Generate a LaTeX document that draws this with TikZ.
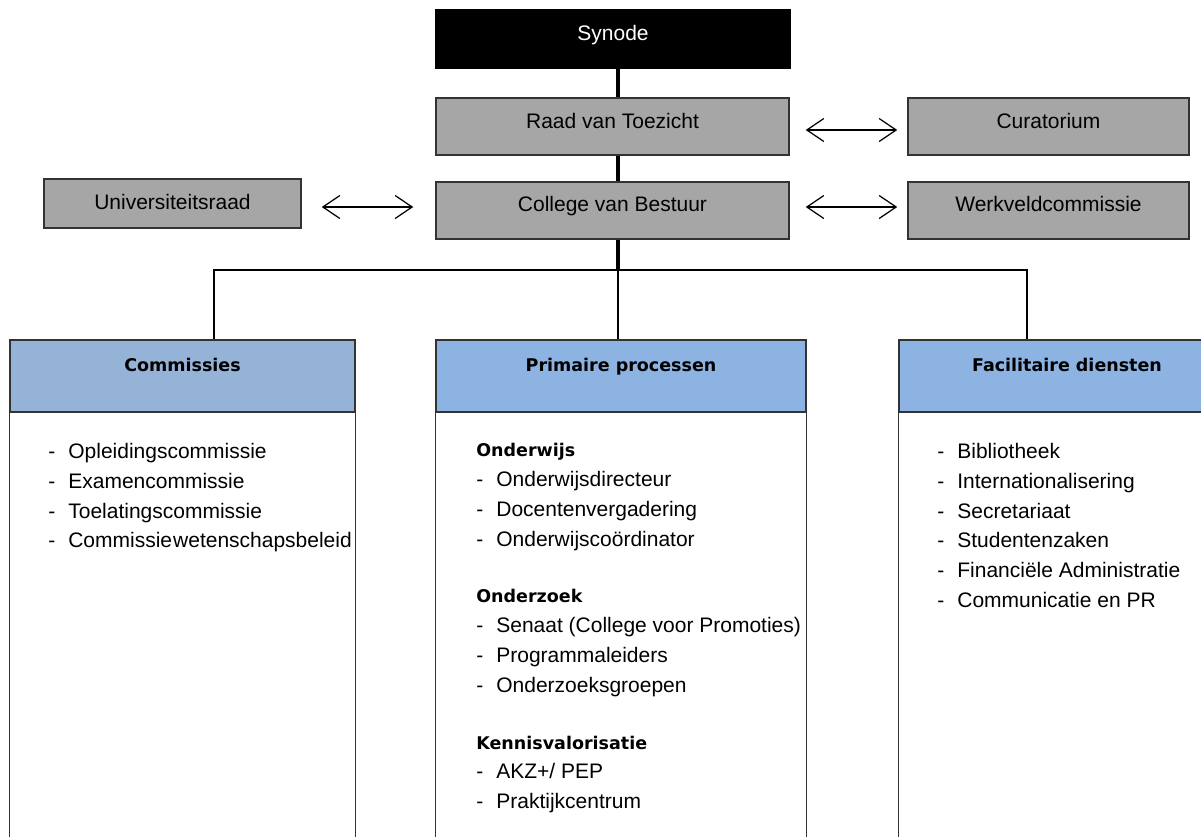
\documentclass[tikz,border=0pt]{standalone}
\usepackage{fontspec}
\setmainfont{Liberation Sans}
\newfontfamily\headfont{DejaVu Sans}
\usetikzlibrary{arrows.meta}

\definecolor{boxgray}{HTML}{A6A6A6}
\definecolor{headblue}{HTML}{8DB3E2}
\definecolor{headgrayblue}{HTML}{95B3D7}

\newcommand{\orgitem}[1]{\makebox[0.4cm][l]{-}#1}
\newcommand{\orghead}[1]{{\headfont\bfseries\fontsize{9.96}{16.96}\selectfont #1}}

\begin{document}
\begin{tikzpicture}[
		x=0.02cm, y=-0.02cm,
		every node/.style={font=\fontsize{11.95}{14}\selectfont, inner sep=0pt},
		orgbox/.style={draw=black!80, line width=0.9pt, fill=boxgray, text height=0.3cm, text depth=0.24cm},
		headbox/.style={draw=black!80, line width=0.9pt, fill=headblue,
			font=\headfont\bfseries\fontsize{9.96}{12}\selectfont, text height=0.26cm, text depth=0.44cm},
		bodybox/.style={draw=black!80, line width=0.6pt},
		itemlist/.style={anchor=north west, align=left, font=\fontsize{11.95}{16.96}\selectfont},
		biarrow/.style={{Straight Barb[length=0.34cm,width=0.46cm]}-{Straight Barb[length=0.34cm,width=0.46cm]}, line width=0.7pt},
		trunk/.style={line width=2.5pt},
		link/.style={line width=0.85pt}
	]
	\useasboundingbox (0, 0) rectangle (1201, 836);

	% top of the chain
	\node[orgbox, fill=black, draw=black, text=white, minimum width=7.08cm, minimum height=1.16cm] (synode) at (613, 39) {Synode};
	\node[orgbox, minimum width=7.06cm, minimum height=1.14cm, text depth=0.22cm] (raad) at (612.5, 126.5) {Raad van Toezicht};
	\node[orgbox, minimum width=7.06cm, minimum height=1.14cm, text depth=0.26cm] (college) at (612.5, 210.5) {College van Bestuur};

	\node[orgbox, minimum width=5.62cm, minimum height=1.14cm, text depth=0.22cm] (cura) at (1048.5, 126.5) {Curatorium};
	\node[orgbox, minimum width=5.62cm, minimum height=1.14cm, text depth=0.26cm] (werk) at (1048.5, 210.5) {Werkveldcommissie};
	\node[orgbox, minimum width=5.14cm, minimum height=0.98cm, text depth=0.06cm] (univ) at (172.5, 203.5) {Universiteitsraad};

	\draw[biarrow, shorten <=0.32cm, shorten >=0.2cm] ([yshift=-0.07cm]raad.east) -- ([yshift=-0.07cm]cura.west);
	\draw[biarrow, shorten <=0.32cm, shorten >=0.2cm] ([yshift=0.07cm]college.east) -- ([yshift=0.07cm]werk.west);
	\draw[biarrow, shorten <=0.4cm, shorten >=0.44cm] ([yshift=-0.07cm]univ.east) -- ([yshift=-0.07cm]univ.east -| college.west);

	% three columns
	\node[headbox, fill=headgrayblue, minimum width=6.9cm, minimum height=1.44cm] (com) at (182.5, 376) {Commissies};
	\node[headbox, minimum width=7.4cm, minimum height=1.44cm] (primair) at (621, 376) {Primaire processen};
	\node[headbox, minimum width=6.72cm, minimum height=1.44cm] (facil) at (1067, 376) {Facilitaire diensten};

	\draw[bodybox] (com.south west) rectangle (com.east |- 0, 850);
	\draw[bodybox] (primair.south west) rectangle (primair.east |- 0, 850);
	\draw[bodybox] (facil.south west) rectangle (facil.east |- 0, 850);

	\coordinate (hub) at (618, 270);
	\coordinate (jl) at (214, 270);
	\coordinate (jr) at (1027, 270);

	\draw[trunk] (synode.south -| hub) -- (raad.north -| hub);
	\draw[trunk] (raad.south -| hub) -- (college.north -| hub);
	\draw[trunk] (college.south -| hub) -- (hub);
	\draw[link] (jl |- com.north) -- (jl) -- (jr) -- (jr |- facil.north);
	\draw[link] (hub) -- (hub |- primair.north);

	% lists
	\node[itemlist] (comlist) at (48, 443) {\orgitem{Opleidingscommissie}\\
		\orgitem{Examencommissie}\\
		\orgitem{Toelatingscommissie}\\
		\orgitem{Commissie\hspace{0.05em}wetenschapsbeleid}};

	\node[itemlist] (primlist) at (476, 443) {\orghead{Onderwijs}\\
		\orgitem{Onderwijsdirecteur}\\
		\orgitem{Docentenvergadering}\\
		\orgitem{Onderwijscoördinator}\\[0.54cm]
		\orghead{Onderzoek}\\
		\orgitem{Senaat (College voor Promoties)}\\
		\orgitem{Programmaleiders}\\
		\orgitem{Onderzoeksgroepen}\\[0.54cm]
		\orghead{Kennisvalorisatie}\\
		\orgitem{AKZ+/ PEP}\\
		\orgitem{Praktijkcentrum}};

	\node[itemlist] (facillist) at (937, 443) {\orgitem{Bibliotheek}\\
		\orgitem{Internationalisering}\\
		\orgitem{Secretariaat}\\
		\orgitem{Studentenzaken}\\
		\orgitem{Financiële Administratie}\\
		\orgitem{Communicatie en PR}};
\end{tikzpicture}
\end{document}
